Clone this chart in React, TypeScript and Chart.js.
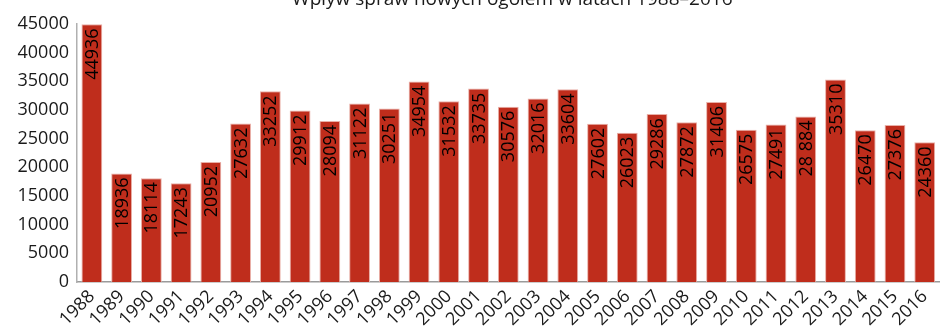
import React, { useEffect, useRef } from "react";
import { Chart, registerables } from "chart.js";

Chart.register(...registerables);

const title = "Wpływ spraw nowych ogółem w latach 1988–2016";

const years = [
  "1988", "1989", "1990", "1991", "1992", "1993", "1994", "1995", "1996", "1997",
  "1998", "1999", "2000", "2001", "2002", "2003", "2004", "2005", "2006", "2007",
  "2008", "2009", "2010", "2011", "2012", "2013", "2014", "2015", "2016",
];

const newCases = [
  44936, 18936, 18114, 17243, 20952, 27632, 33252, 29912, 28094, 31122,
  30251, 34954, 31532, 33735, 30576, 32016, 33604, 27602, 26023, 29286,
  27872, 31406, 26575, 27491, 28884, 35310, 26470, 27376, 24360,
];

// years whose value label is printed with a thousands separator
const groupedLabelYears = ["2012"];

const yTicks = [0, 5000, 10000, 15000, 20000, 25000, 30000, 35000, 40000, 45000];

const FONT = "'Open Sans', 'Noto Sans', sans-serif";
const BAR_FILL = "#bf2d1c";
const BAR_EDGE = "#e9b0a8";
const TEXT = "#1a1a1a";

function formatLabel(value: number, year: string): string {
  const s = String(value);
  if (groupedLabelYears.includes(year)) {
    return s.slice(0, s.length - 3) + " " + s.slice(s.length - 3);
  }
  return s;
}

const valueLabelPlugin = {
  id: "valueLabels",
  afterDatasetsDraw(chart: any) {
    const ctx = chart.ctx;
    const meta = chart.getDatasetMeta(0);
    ctx.save();
    ctx.font = `18px ${FONT}`;
    ctx.fillStyle = "#000";
    ctx.textAlign = "right";
    ctx.textBaseline = "middle";
    meta.data.forEach((bar: any, i: number) => {
      ctx.save();
      ctx.translate(bar.x, bar.y + 4);
      ctx.rotate(-Math.PI / 2);
      ctx.fillText(formatLabel(newCases[i], years[i]), 0, 1);
      ctx.restore();
    });
    ctx.restore();
  },
};

const titlePlugin = {
  id: "topTitle",
  afterDraw(chart: any) {
    const ctx = chart.ctx;
    const area = chart.chartArea;
    ctx.save();
    ctx.font = `19px ${FONT}`;
    ctx.fillStyle = TEXT;
    ctx.textAlign = "center";
    ctx.textBaseline = "alphabetic";
    ctx.fillText(title, (area.left + area.right) / 2 + 4, 4.5);
    ctx.restore();
  },
};

export default function App() {
  const canvasRef = useRef<HTMLCanvasElement | null>(null);

  useEffect(() => {
    if (!canvasRef.current) return;
    const chart = new Chart(canvasRef.current, {
      type: "bar",
      data: {
        labels: years,
        datasets: [
          {
            data: newCases,
            backgroundColor: BAR_FILL,
            borderColor: BAR_EDGE,
            borderWidth: 1,
            barPercentage: 0.7,
            categoryPercentage: 1,
          },
        ],
      },
      options: {
        animation: false,
        responsive: true,
        maintainAspectRatio: false,
        layout: { padding: { top: 24, right: 0, left: 0, bottom: 0 } },
        plugins: {
          legend: { display: false },
          title: { display: false },
          tooltip: { enabled: false },
        },
        scales: {
          x: {
            grid: { display: false, drawTicks: false },
            border: { display: true, color: "#9a9a9a", width: 1.5 },
            ticks: {
              font: { family: FONT, size: 18 },
              color: TEXT,
              minRotation: 45,
              maxRotation: 45,
              autoSkip: false,
              padding: 4,
            },
            afterFit: (scale: any) => {
              scale.height = 46;
            },
          },
          y: {
            min: 0,
            max: 45000,
            grid: { display: false, drawTicks: false },
            border: { display: true, color: "#b0b0b0", width: 1.5 },
            afterBuildTicks: (scale: any) => {
              scale.ticks = yTicks.map((v) => ({ value: v }));
            },
            ticks: {
              font: { family: FONT, size: 18 },
              color: TEXT,
              padding: 8,
              callback: (value: any) => String(value),
            },
            afterFit: (scale: any) => {
              scale.width = 77;
            },
          },
        },
      },
      plugins: [valueLabelPlugin, titlePlugin],
    });
    return () => chart.destroy();
  }, []);

  return (
    <div style={{ position: "fixed", left: 0, top: 0, width: 944, height: 328, background: "#fff" }}>
      <canvas ref={canvasRef} />
    </div>
  );
}
